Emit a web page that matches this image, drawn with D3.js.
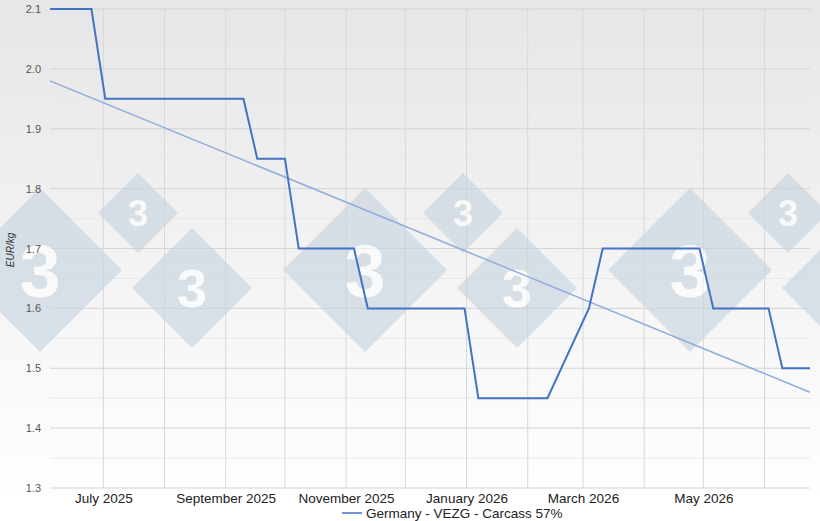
<!DOCTYPE html>
<html>
<head>
<meta charset="utf-8">
<script src="https://cdn.jsdelivr.net/npm/d3@7"></script>
<style>
  body { margin: 0; background: #fff; }
  text { font-family: Arial, "Liberation Sans", sans-serif; }
</style>
</head>
<body>
<div id="chart"></div>
<script>
  // weekly price points (EUR/kg)
  const dates = ["2025-06-04", "2025-06-25", "2025-07-02", "2025-09-10", "2025-09-17", "2025-10-01",
    "2025-10-08", "2025-11-05", "2025-11-12", "2025-12-31", "2026-01-07", "2026-02-11",
    "2026-03-04", "2026-03-11", "2026-04-29", "2026-05-06", "2026-06-03", "2026-06-10", "2026-06-24"];
  const prices = [2.1, 2.1, 1.95, 1.95, 1.85, 1.85, 1.7, 1.7, 1.6, 1.6, 1.45, 1.45,
    1.6, 1.7, 1.7, 1.6, 1.6, 1.5, 1.5];
  const trendDates = ["2025-06-04", "2026-06-24"];
  const trendValues = [1.98, 1.46];
  const tickLabels = ["July 2025", "September 2025", "November 2025", "January 2026", "March 2026", "May 2026"];
  const legendLabel = "Germany - VEZG - Carcass 57%";

  const width = 820, height = 521;
  const margin = { top: 9, right: 10, bottom: 33, left: 50 };
  const parse = d3.timeParse("%Y-%m-%d");

  const svg = d3.select("#chart").append("svg").attr("width", width).attr("height", height);

  const grad = svg.append("defs").append("linearGradient")
    .attr("id", "bg").attr("x1", 0).attr("y1", 0).attr("x2", 0).attr("y2", 1);
  grad.append("stop").attr("offset", "0%").attr("stop-color", "#e6e6e6");
  grad.append("stop").attr("offset", "100%").attr("stop-color", "#ffffff");
  svg.append("rect").attr("width", width).attr("height", height - 20).attr("fill", "url(#bg)");

  const x = d3.scaleTime()
    .domain([parse(dates[0]), parse(dates[dates.length - 1])])
    .range([margin.left, width - margin.right]);
  const y = d3.scaleLinear().domain([1.3, 2.1]).range([height - margin.bottom, margin.top]);

  // grid
  const grid = svg.append("g");
  d3.range(1.3, 2.1001, 0.05).forEach((v, i) => {
    grid.append("line").attr("x1", margin.left).attr("x2", width - margin.right)
      .attr("y1", y(v)).attr("y2", y(v))
      .attr("stroke", i % 2 === 0 ? "#d4d4d4" : "#e8e8e8");
  });
  x.ticks(d3.timeMonth.every(1)).forEach(d => {
    grid.append("line").attr("x1", x(d)).attr("x2", x(d))
      .attr("y1", margin.top).attr("y2", height - margin.bottom).attr("stroke", "#d8d8d8");
  });

  // watermark diamonds, drawn over the grid like the reference
  const marks = [[40, 270, 82], [138, 213, 40], [192, 288, 60]];
  const wm = svg.append("g").attr("fill", "#c5d2df").attr("opacity", 0.6);
  [0, 325, 650].forEach(off => {
    marks.forEach(([cx, cy, r]) => {
      const g = wm.append("g").attr("transform", `translate(${cx + off},${cy})`);
      g.append("rect").attr("x", -r / 1.414).attr("y", -r / 1.414)
        .attr("width", r * 1.414).attr("height", r * 1.414).attr("transform", "rotate(45)");
      if (cx + off + r * 0.3 < width) {
        g.append("text").attr("text-anchor", "middle").attr("dy", "0.36em")
          .attr("font-size", r * 0.9).attr("font-weight", "bold").attr("fill", "#fff").text("3");
      }
    });
  });

  // axes
  const yAxis = svg.append("g").attr("transform", `translate(${margin.left - 6},0)`)
    .call(d3.axisLeft(y).tickValues(d3.range(1.3, 2.1001, 0.1)).tickFormat(d3.format(".1f")).tickSize(0));
  yAxis.select(".domain").remove();
  yAxis.selectAll("text").attr("font-size", 11).attr("fill", "#555");

  const labelDates = d3.timeMonth.every(2).range(parse("2025-07-01"), parse("2026-06-01"));
  const xAxis = svg.append("g").attr("transform", `translate(0,${height - margin.bottom})`)
    .call(d3.axisBottom(x).tickValues(labelDates).tickFormat((d, i) => tickLabels[i]).tickSize(0));
  xAxis.select(".domain").remove();
  xAxis.selectAll("text").attr("font-size", 13.5).attr("fill", "#222").attr("dy", "0.9em");

  svg.append("text").attr("transform", "translate(14,250) rotate(-90)")
    .attr("text-anchor", "middle").attr("font-size", 10).attr("font-style", "italic")
    .attr("fill", "#333").text("EUR/kg");

  // trend
  const line = d3.line().x(d => x(d[0])).y(d => y(d[1]));
  svg.append("path").datum(trendDates.map((d, i) => [parse(d), trendValues[i]]))
    .attr("d", line).attr("fill", "none").attr("stroke", "#8fabdc").attr("stroke-width", 1.5);

  svg.append("path").datum(dates.map((d, i) => [parse(d), prices[i]]))
    .attr("d", line).attr("fill", "none").attr("stroke", "#4472c4").attr("stroke-width", 2);

  // legend
  const lg = svg.append("g").attr("transform", "translate(342,513)");
  lg.append("line").attr("x1", 0).attr("x2", 20).attr("stroke", "#4472c4").attr("stroke-width", 1.5);
  lg.append("text").attr("x", 24).attr("dy", "0.35em").attr("font-size", 13.5).attr("fill", "#222").text(legendLabel);
</script>
</body>
</html>
